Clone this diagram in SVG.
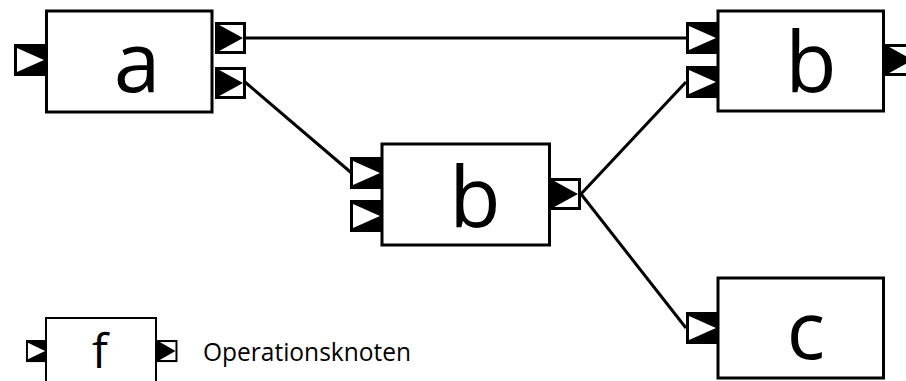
<svg xmlns="http://www.w3.org/2000/svg" xmlns:xlink="http://www.w3.org/1999/xlink" width="906" height="381" viewBox="0 0 906 381">
<style>
.box{fill:#fff;stroke:#000;stroke-width:3}
.lbl{font-family:"Open Sans","Noto Sans",sans-serif;font-size:84px;text-anchor:middle;fill:#000}
.con{stroke:#000;stroke-width:3;fill:none}
.leg{font-family:"Open Sans","Noto Sans",sans-serif;font-size:25px;fill:#000}
</style>
<defs>
<g id="inport">
<rect x="0" y="0" width="31" height="32" fill="#000"/>
<polygon points="3,4 3,28 30,16" fill="#fff"/>
</g>
<g id="outport">
<rect x="1.5" y="1.5" width="28" height="29" fill="#fff" stroke="#000" stroke-width="3"/>
<polygon points="1.5,1.5 1.5,30.5 28,16" fill="#000"/>
</g>
</defs>
<g id="connectors">
<line class="con" x1="245" y1="38" x2="686" y2="38"/>
<line class="con" x1="245" y1="82" x2="351" y2="172.5"/>
<line class="con" x1="581" y1="194" x2="686" y2="82"/>
<line class="con" x1="581" y1="194" x2="686" y2="328"/>
</g>
<g id="node-a">
<rect class="box" x="46.5" y="11" width="165.5" height="101"/>
<use xlink:href="#inport" x="14" y="44"/>
<use xlink:href="#outport" x="215" y="22"/>
<use xlink:href="#outport" x="215" y="67"/>
<text class="lbl" x="137" y="92">a</text>
</g>
<g id="node-b1">
<rect class="box" x="382" y="144" width="167.5" height="101"/>
<use xlink:href="#inport" x="350" y="157"/>
<use xlink:href="#inport" x="350" y="200"/>
<use xlink:href="#outport" x="550" y="178"/>
<text class="lbl" x="475" y="227">b</text>
</g>
<g id="node-b2">
<rect class="box" x="718" y="11" width="165.5" height="100"/>
<use xlink:href="#inport" x="686" y="22"/>
<use xlink:href="#inport" x="686" y="66"/>
<use xlink:href="#outport" x="885" y="44"/>
<text class="lbl" x="811" y="92">b</text>
</g>
<g id="node-c">
<rect class="box" x="718" y="278" width="165.5" height="100"/>
<use xlink:href="#inport" x="686" y="312"/>
<text class="lbl" x="806" y="359" style="font-size:80px">c</text>
</g>
<g id="legend">
<rect x="46" y="318" width="110" height="80" fill="#fff" stroke="#000" stroke-width="2"/>
<use xlink:href="#inport" transform="translate(26,340) scale(0.64,0.69)"/>
<use xlink:href="#outport" transform="translate(157,340) scale(0.66,0.69)"/>
<text class="lbl" x="100" y="368" style="font-size:47px">f</text>
<text class="leg" x="203" y="361" textLength="208" lengthAdjust="spacingAndGlyphs">Operationsknoten</text>
</g>
</svg>
